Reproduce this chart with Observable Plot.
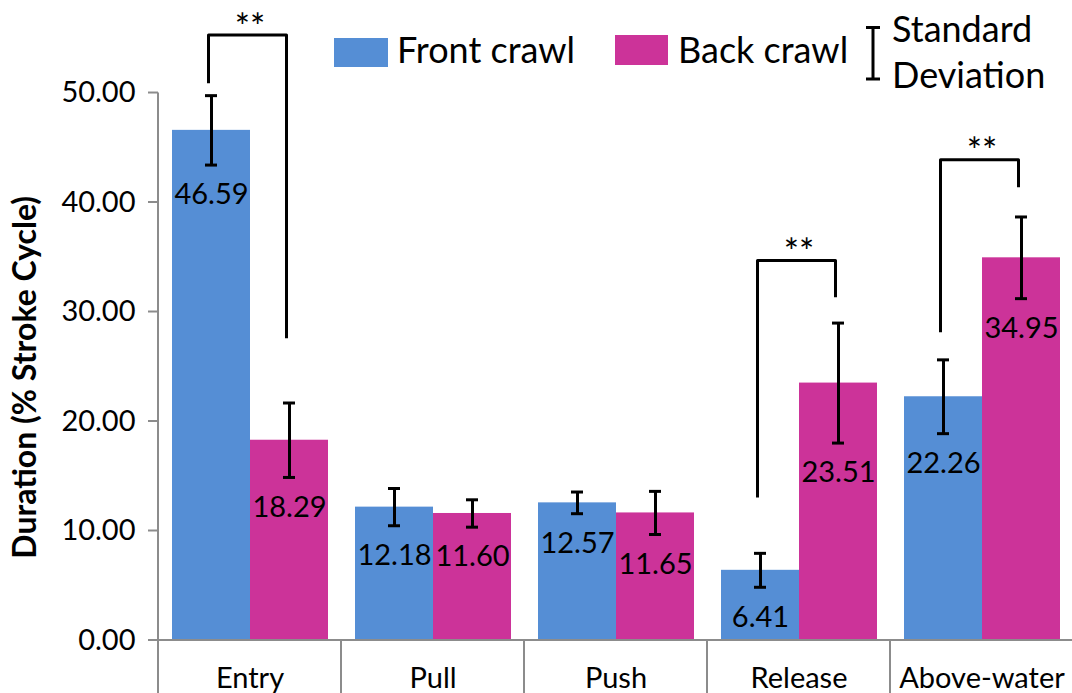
<!DOCTYPE html>
<html><head><meta charset="utf-8">
<script src="https://cdn.jsdelivr.net/npm/d3@7"></script>
<script src="https://cdn.jsdelivr.net/npm/@observablehq/plot@0.6"></script>
<style>
html,body{margin:0;padding:0;background:#fff;}
#wrap{width:1072px;height:693px;overflow:hidden;}
</style></head><body><div id="wrap"></div>
<script>
// ---- data ----
const phases = ["Entry", "Pull", "Push", "Release", "Above-water"];
const seriesNames = ["Front crawl", "Back crawl"];
const frontMean = [46.59, 12.18, 12.57, 6.41, 22.26];
const backMean  = [18.29, 11.60, 11.65, 23.51, 34.95];
const frontSD   = [3.17, 1.70, 0.99, 1.55, 3.37];
const backSD    = [3.40, 1.25, 1.97, 5.48, 3.73];
const yTicks = [0, 10, 20, 30, 40, 50];
// significance brackets (y-levels in % stroke cycle)
const sigPhases   = ["Entry", "Release", "Above-water"];
const sigTop      = [55.3, 34.7, 43.9];
const sigFrontEnd = [50.9, 13.06, 28.15];
const sigBackEnd  = [27.6, 31.35, 41.4];
const sigText     = ["**", "**", "**"];
const seriesColors = ["#558ED5", "#CC3399"];
const yTitle = "Duration (% Stroke Cycle)";
const sdLegend = ["Standard", "Deviation"];

// ---- tables built from the arrays ----
const rows = [];
phases.forEach((p, i) => {
  rows.push({phase: p, series: seriesNames[0], mean: frontMean[i], sd: frontSD[i]});
  rows.push({phase: p, series: seriesNames[1], mean: backMean[i], sd: backSD[i]});
});
const sigRows = sigPhases.map((p, i) => ({phase: p, top: sigTop[i], text: sigText[i]}));
const bracketPts = [];
sigPhases.forEach((p, i) => {
  bracketPts.push({id: i, phase: p, s: seriesNames[0], y: sigFrontEnd[i]});
  bracketPts.push({id: i, phase: p, s: seriesNames[0], y: sigTop[i]});
  bracketPts.push({id: i, phase: p, s: seriesNames[1], y: sigTop[i]});
  bracketPts.push({id: i, phase: p, s: seriesNames[1], y: sigBackEnd[i]});
});

const FONT = "Lato, 'Open Sans', sans-serif";
const chart = Plot.plot({
  width: 1072,
  height: 693,
  marginLeft: 156,
  marginRight: 0,
  marginTop: 0,
  marginBottom: 53,
  style: {fontFamily: FONT, fontSize: "29px", color: "#000", background: "#fff", overflow: "visible"},
  fx: {domain: phases, padding: 0, range: [156, 1074], axis: "bottom", tickSize: 0, tickPadding: 27, label: null},
  x: {domain: seriesNames, paddingInner: 0, paddingOuter: 0.16, axis: null},
  y: {domain: [0, 58.45], axis: null},
  color: {domain: seriesNames, range: seriesColors},
  marks: [
    Plot.barY(rows, {fx: "phase", x: "series", y: "mean", fill: "series"}),
    Plot.ruleX(rows, {fx: "phase", x: "series", y1: d => d.mean - d.sd, y2: d => d.mean + d.sd, stroke: "#000", strokeWidth: 3}),
    Plot.tickY(rows, {fx: "phase", x: "series", y: d => d.mean + d.sd, stroke: "#000", strokeWidth: 3, insetLeft: 33, insetRight: 33}),
    Plot.tickY(rows, {fx: "phase", x: "series", y: d => d.mean - d.sd, stroke: "#000", strokeWidth: 3, insetLeft: 33, insetRight: 33}),
    Plot.text(rows, {fx: "phase", x: "series", y: d => d.mean - d.sd, text: d => d.mean.toFixed(2), dy: 30, fill: "#000"}),
    Plot.line(bracketPts, {fx: "phase", x: "s", y: "y", z: "id", stroke: "#000", strokeWidth: 3, dx: -3, strokeLinejoin: "round", strokeLinecap: "butt"}),
    Plot.text(sigRows, {fx: "phase", y: "top", text: "text", dy: -7, fontSize: 36, fill: "#000"}),
    // y tick labels (drawn only in the first facet, at the frame's left edge)
    Plot.text(yTicks, {fx: () => phases[0], y: d => d, text: d => d.toFixed(2), frameAnchor: "left", textAnchor: "end", dx: -23, fontSize: 29, fill: "#000"})
  ]
});
document.getElementById("wrap").appendChild(chart);

// ---- axis lines, ticks, separators, legend, title ----
const svg = d3.select(chart);
const fxS = chart.scale("fx"), yS = chart.scale("y");
const yPix = v => yS.apply ? yS.apply(v) : yS.range[0] + (v - yS.domain[0]) / (yS.domain[1] - yS.domain[0]) * (yS.range[1] - yS.range[0]);
const fxStep = fxS.step || fxS.bandwidth || (fxS.range[1] - fxS.range[0]) / phases.length;
const fxPix = c => fxS.apply ? fxS.apply(c) : fxS.range[0] + phases.indexOf(c) * fxStep;
const GRAY = "#8c8c8c";
svg.selectAll("g[aria-label*='axis'] text").attr("fill", "#000");
const deco = svg.append("g");
const y0 = yPix(0), yMax = yPix(yTicks[yTicks.length - 1]);
const x0 = fxPix(phases[0]);
deco.append("line").attr("x1", x0).attr("x2", x0).attr("y1", yMax).attr("y2", 693).attr("stroke", GRAY).attr("stroke-width", 2);
deco.append("line").attr("x1", x0 - 10).attr("x2", 1072).attr("y1", y0).attr("y2", y0).attr("stroke", GRAY).attr("stroke-width", 2);
yTicks.forEach(t => {
  deco.append("line").attr("x1", x0 - 10).attr("x2", x0).attr("y1", yPix(t)).attr("y2", yPix(t)).attr("stroke", GRAY).attr("stroke-width", 2);
});
phases.slice(1).forEach(p => {
  const xp = fxPix(p);
  deco.append("line").attr("x1", xp).attr("x2", xp).attr("y1", y0).attr("y2", 693).attr("stroke", GRAY).attr("stroke-width", 2);
});
// y title
deco.append("text").attr("transform", `translate(36,${(yMax + y0) / 2 + 11}) rotate(-90)`)
  .attr("text-anchor", "middle").attr("font-weight", "bold").attr("font-size", 32).attr("fill", "#000").text(yTitle);
// legend
const lg = deco.append("g").attr("font-size", 36).attr("fill", "#000").attr("text-anchor", "start");
lg.append("rect").attr("x", 334).attr("y", 38).attr("width", 54).attr("height", 29).attr("fill", seriesColors[0]);
lg.append("text").attr("x", 397).attr("y", 63).text(seriesNames[0]);
lg.append("rect").attr("x", 615).attr("y", 35).attr("width", 53).attr("height", 30).attr("fill", seriesColors[1]);
lg.append("text").attr("x", 678).attr("y", 63).text(seriesNames[1]);
lg.append("line").attr("x1", 873).attr("x2", 873).attr("y1", 27.5).attr("y2", 79).attr("stroke", "#000").attr("stroke-width", 3);
lg.append("line").attr("x1", 866).attr("x2", 880).attr("y1", 27.5).attr("y2", 27.5).attr("stroke", "#000").attr("stroke-width", 3);
lg.append("line").attr("x1", 866).attr("x2", 880).attr("y1", 79).attr("y2", 79).attr("stroke", "#000").attr("stroke-width", 3);
lg.append("text").attr("x", 892).attr("y", 42).text(sdLegend[0]);
lg.append("text").attr("x", 892).attr("y", 88).text(sdLegend[1]);
</script>
</body></html>
